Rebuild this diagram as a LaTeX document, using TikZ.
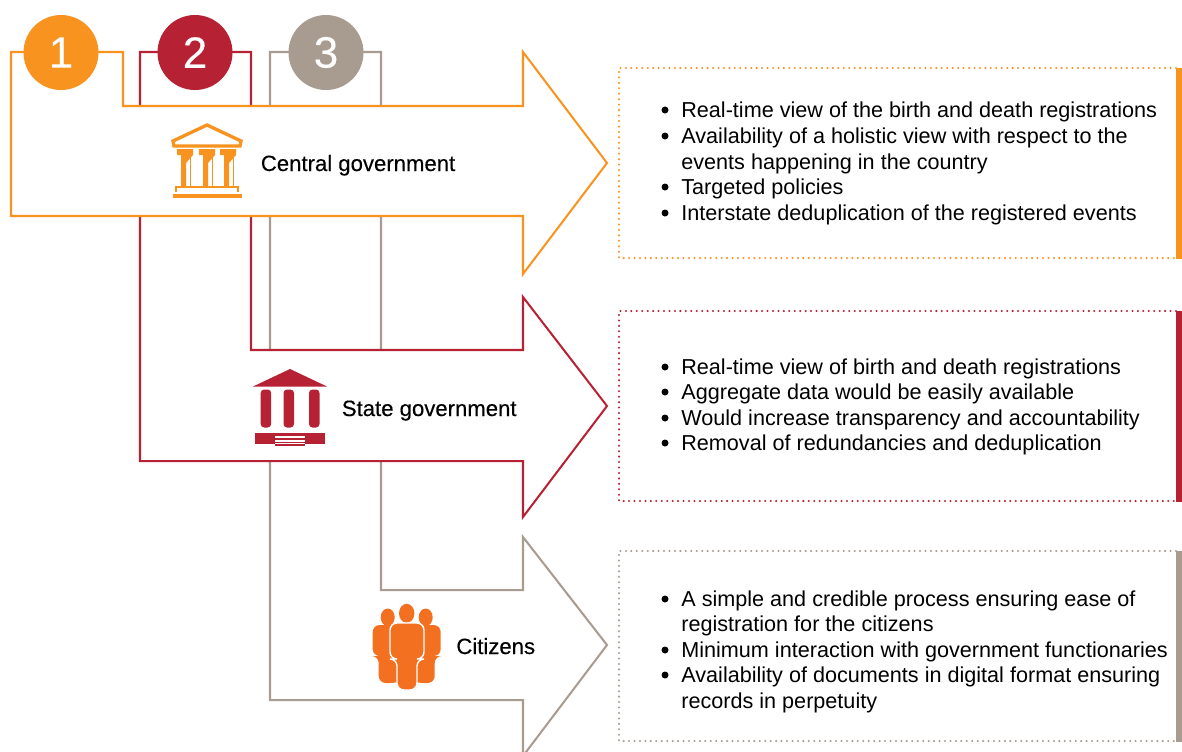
\documentclass[tikz,border=0pt]{standalone}
\usepackage{fontspec}
\setmainfont{Liberation Sans}
\newfontfamily\labelfont[FakeBold=0.3]{Liberation Sans}
\definecolor{govorange}{HTML}{F8931F}
\definecolor{govred}{HTML}{B72134}
\definecolor{citgray}{HTML}{A89B8F}
\definecolor{peopleorange}{HTML}{F37021}
\tikzset{
 flow/.style={line width=1.15pt, fill=white, line join=miter},
 numdot/.style={circle, minimum size=75*0.02cm, inner sep=0pt, text=white, font=\fontsize{25}{25}\selectfont\labelfont},
 listline/.style={anchor=base west, inner sep=0pt, font=\fontsize{12.3}{14}\selectfont},
 headline/.style={anchor=base west, inner sep=0pt, font=\fontsize{12.6}{14}\selectfont\labelfont}
}
\begin{document}
\begin{tikzpicture} [x=0.02cm, y=-0.02cm]
\useasboundingbox (0,0) rectangle (1182,751);
\clip (0,0) rectangle (1182,751);
% arrows, last one first
\draw[flow, draw=citgray] (270,52)--(381,52)--(381,590)--(523,590)--(523,537)--(607,645)--(523,756)--(523,700)--(270,700)--cycle;
\draw[flow, draw=govred] (140,52)--(251,52)--(251,350)--(523,350)--(523,297)--(607,406)--(523,517)--(523,461)--(140,461)--cycle;
\draw[flow, draw=govorange] (11,52)--(123,52)--(123,106)--(523,106)--(523,52)--(607,163)--(523,274)--(523,216)--(11,216)--cycle;
\node[numdot, fill=govorange] (one) at (61,52.5) {1};
\node[numdot, fill=govred] (two) at (195,52.5) {2};
\node[numdot, fill=citgray] (three) at (326,52.5) {3};
% central government icon
\draw[govorange, line width=1.9pt, line join=miter] (207,125)--(241,141)--(240,146)--(174,146)--(173,141)--cycle;
\foreach \x in {177,199,220} {
 \fill[govorange] (\x,149)--++(16,0)--++(0,6)--++(-7,8)--++(0,24)--++(-5,0)--++(0,-32)--++(-4,0)--cycle;
 \fill[govorange] (\x+12.5,158) rectangle ++(1.8,29);
}
\draw[govorange, line width=.7pt] (176,192)--(176,187)--(238,187)--(238,192);
\fill[govorange] (172.7,194) rectangle (242,198);
\node[headline] (central) at (260.5,171) {Central government};
% state government icon
\fill[govred] (290,369)--(327,386.5)--(253,386.5)--cycle;
\foreach \x in {260.7,283.5,309} {
 \fill[govred, rounded corners=2pt] (\x,389.5) rectangle ++(10.5,38);
}
\fill[govred] (255.3,433.3) rectangle (324.7,443.7);
\fill[govred] (275,433.3) rectangle (305,445.7);
\fill[white] (275,435.8) rectangle (305,437.8);
\fill[white] (275,439.8) rectangle (305,441.8);
\fill[white] (275,443.3) rectangle (305,444.1);
\node[headline] (state) at (341.5,416) {State government};
% citizens icon
\foreach \x/\s in {387.7/1,425.7/-1} {
 \fill[peopleorange] (\x,617.3) circle [x radius=7, y radius=8.8];
 \fill[peopleorange, rounded corners=4pt] (\x-\s*15,656)--(\x-\s*15,625)--(\x+\s*19,625)--(\x+\s*19,680)--(\x+\s*8,683)--(\x-\s*9,683)--(\x-\s*9,656)--cycle;
}
\fill[peopleorange] (406.7,613.3) circle [x radius=7.7, y radius=9.5];
\filldraw[peopleorange, draw=white, line width=.8pt, rounded corners=4pt] (390,659)--(390,623)--(424,623)--(424,659)--(417,659)--(417,690)--(397,690)--(397,659)--cycle;
\node[headline] (citizens) at (456,654) {Citizens};
% text boxes
\foreach \y/\c in {68/govorange,311/govred,551/citgray} {
 \draw[\c, line width=1.3pt, line cap=round, dash pattern=on 0pt off 3.1pt] (1176,\y)--(619,\y)--(619,\y+190)--(1176,\y+190);
 \fill[\c] (1176,\y) rectangle ++(6,190.5);
}
\foreach \y in {110,136,187,213,367,392,418,443,599,650,675} {
 \fill[black] (665,\y) circle (3.5);
}
\foreach \y/\txt [count=\i] in {110/Real-time view of the birth and death registrations,
 136/Availability of a holistic view with respect to the,
 162/events happening in the country,
 187/Targeted policies,
 213/Interstate deduplication of the registered events,
 367/Real-time view of birth and death registrations,
 392/Aggregate data would be easily available,
 418/Would increase transparency and accountability,
 443/Removal of redundancies and deduplication,
 599/A simple and credible process ensuring ease of,
 624/registration for the citizens,
 650/Minimum interaction with government functionaries,
 675/Availability of documents in digital format ensuring,
 701/records in perpetuity} {
 \node[listline] (line\i) at (681,\y+7) {\txt};
}
\end{tikzpicture}
\end{document}
